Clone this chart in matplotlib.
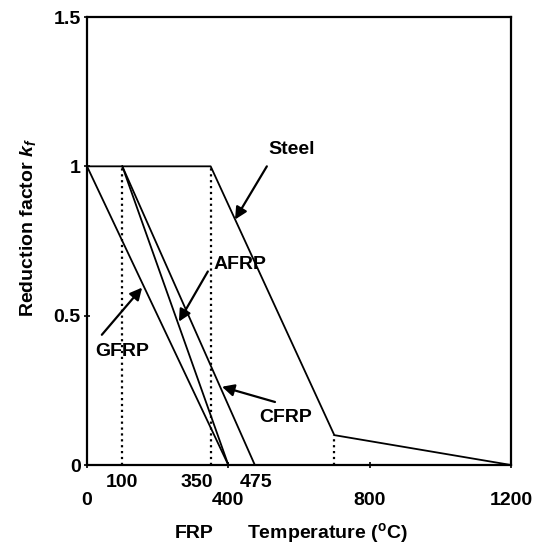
import matplotlib
matplotlib.use("Agg")
import matplotlib.pyplot as plt
from matplotlib import transforms

plt.rcParams['font.family'] = ['Liberation Sans', 'DejaVu Sans']
plt.rcParams['font.weight'] = 'bold'
plt.rcParams['mathtext.fontset'] = 'custom'
plt.rcParams['mathtext.it'] = 'Liberation Sans:italic'
plt.rcParams['mathtext.rm'] = 'Liberation Sans:bold'

# data
steel_T = [0, 350, 700, 1200]
steel_k = [1, 1, 0.1, 0]
gfrp_T = [0, 400]
gfrp_k = [1, 0]
afrp_T = [100, 400]
afrp_k = [1, 0]
cfrp_T = [100, 475]
cfrp_k = [1, 0]
guide_T = [100, 350, 700]
guide_k = [1, 1, 0.1]

main_ticks = [0, 400, 800, 1200]
upper_ticks = [100, 312, 478]
upper_labels = ['100', '350', '475']
y_ticks = [0, 0.5, 1, 1.5]
y_labels = ['0', '0.5', '1', '1.5']

fs = 14

fig = plt.figure(figsize=(5.37, 5.48), dpi=100)
ax = fig.add_axes([87/537, 1 - 465/548, (511-87)/537, (465-17)/548])

for t, k in zip(guide_T, guide_k):
    ax.plot([t, t], [0, k], color='black', linestyle=':', linewidth=1.6)

ax.plot(steel_T, steel_k, color='black', linewidth=1.3)
ax.plot(gfrp_T, gfrp_k, color='black', linewidth=1.3)
ax.plot(afrp_T, afrp_k, color='black', linewidth=1.3)
ax.plot(cfrp_T, cfrp_k, color='black', linewidth=1.3)

ax.set_xlim(0, 1200)
ax.set_ylim(0, 1.5)
ax.set_xticks(main_ticks)
ax.set_xticklabels([str(v) for v in main_ticks])
ax.set_yticks(y_ticks)
ax.set_yticklabels(y_labels)
ax.tick_params(direction='inout', length=5, width=1.2, labelsize=fs, pad=2)
ax.tick_params(axis='x', pad=17)
for s in ax.spines.values():
    s.set_linewidth(1.6)

trans = transforms.blended_transform_factory(ax.transData, ax.transAxes)
for t, lab in zip(upper_ticks, upper_labels):
    ax.text(t, -0.04, lab, transform=trans, ha='center', va='center',
            fontsize=fs, fontweight='bold')

arrow = dict(arrowstyle='-|>', color='black', lw=1.6, mutation_scale=18,
             shrinkA=0, shrinkB=0)
ax.annotate('', xy=(419, 0.822), xytext=(509, 1.0), arrowprops=arrow)
ax.text(578, 1.057, 'Steel', ha='center', va='center', fontsize=fs, fontweight='bold')
ax.annotate('', xy=(260, 0.48), xytext=(342, 0.648), arrowprops=arrow)
ax.text(433, 0.67, 'AFRP', ha='center', va='center', fontsize=fs, fontweight='bold')
ax.annotate('', xy=(156, 0.594), xytext=(42, 0.436), arrowprops=arrow)
ax.text(99, 0.38, 'GFRP', ha='center', va='center', fontsize=fs, fontweight='bold')
ax.annotate('', xy=(382, 0.262), xytext=(532, 0.211), arrowprops=arrow)
ax.text(561, 0.158, 'CFRP', ha='center', va='center', fontsize=fs, fontweight='bold')

fig.text(194/537, 1 - 533/548, 'FRP', ha='center', va='center', fontsize=fs, fontweight='bold')
fig.text(327/537, 1 - 533/548, r'Temperature ($^{\rm o}$C)', ha='center', va='center',
         fontsize=fs, fontweight='bold')
fig.text(28/537, 1 - 228/548, r'Reduction factor $k_f$', ha='center', va='center',
         rotation=90, fontsize=fs, fontweight='bold')

fig.savefig('out.png', dpi=100)
